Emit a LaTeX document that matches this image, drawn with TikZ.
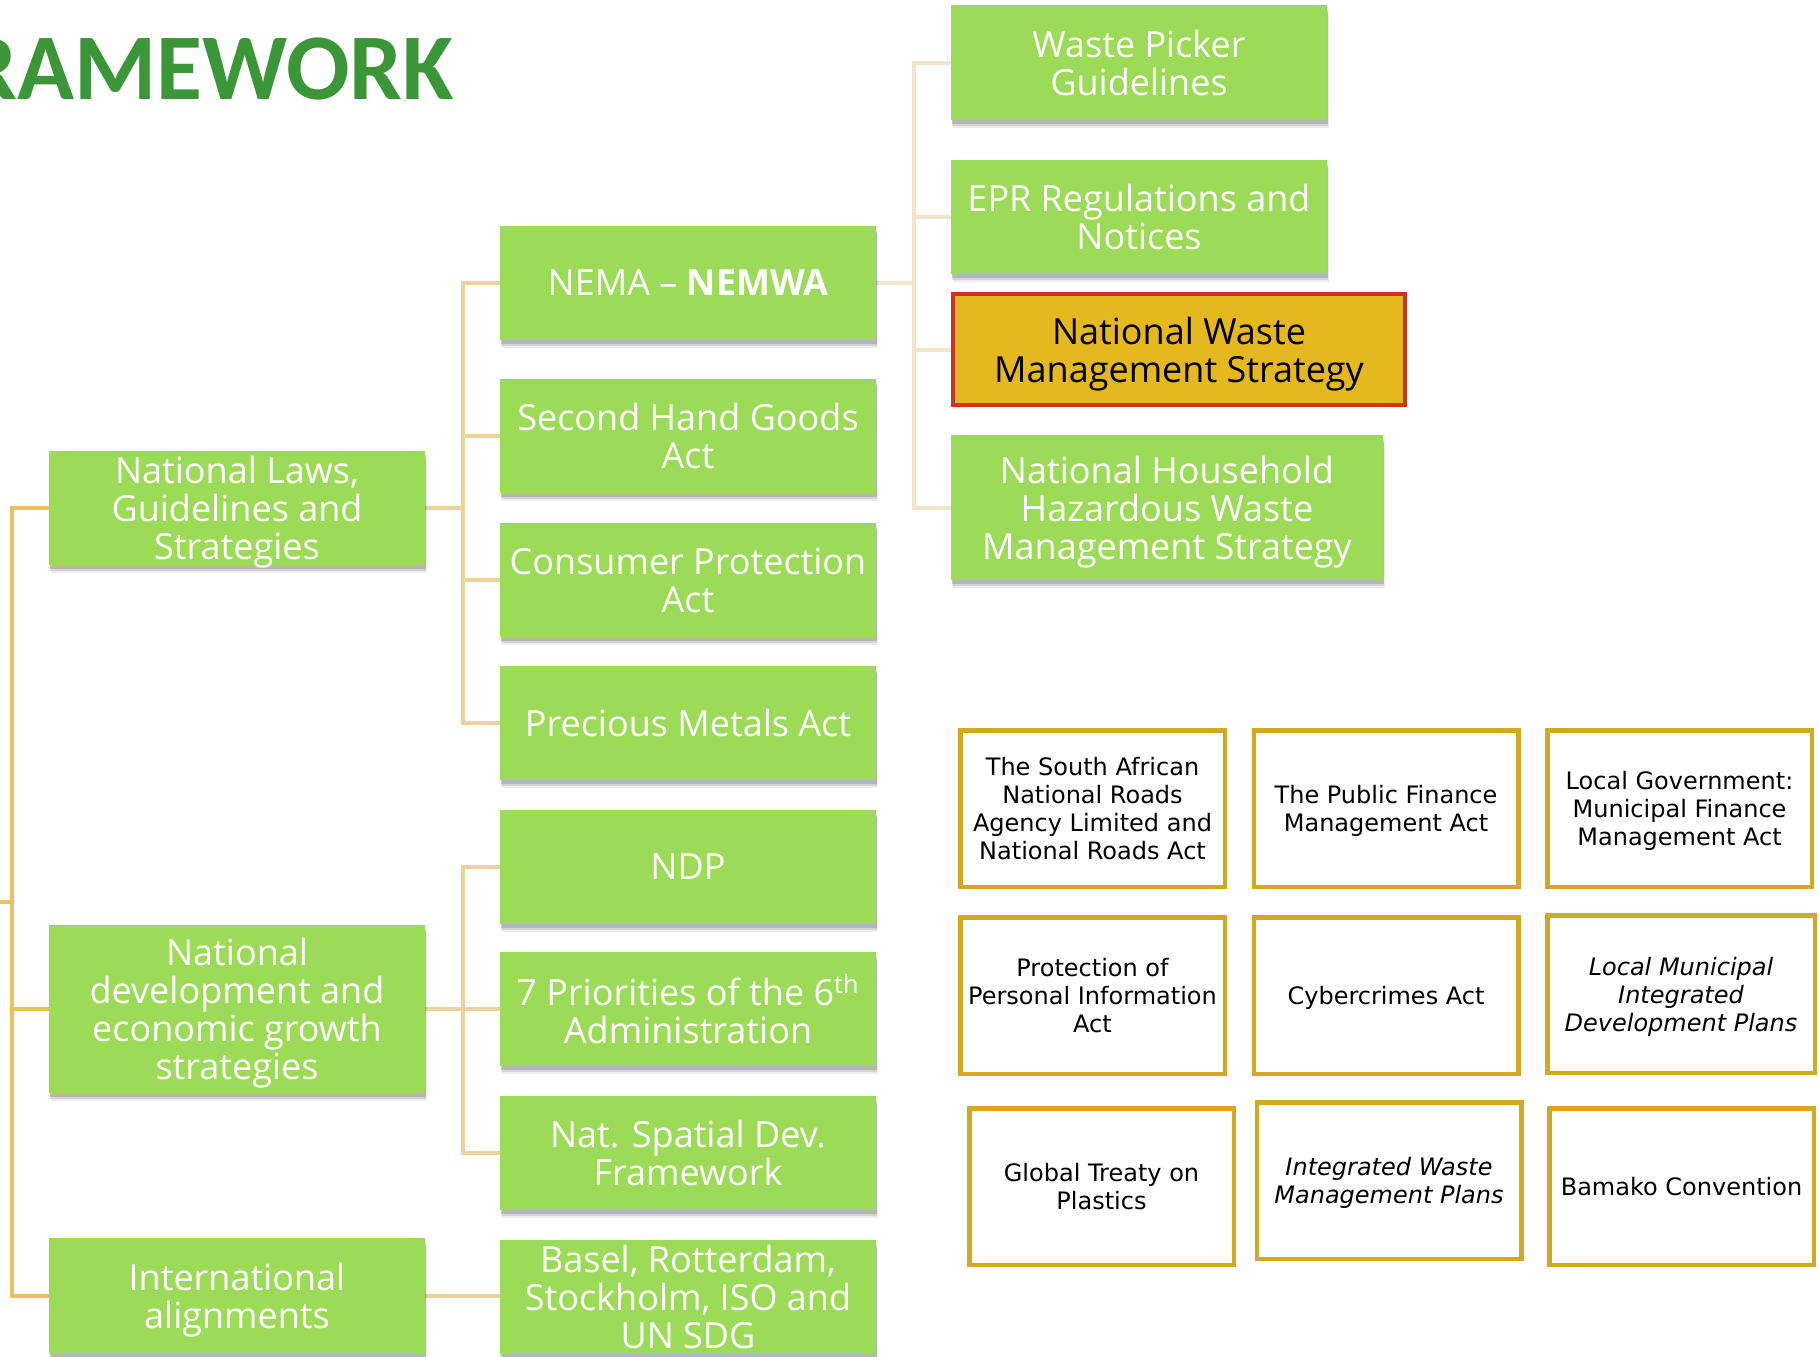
\documentclass[tikz,border=0pt]{standalone}
\usepackage{fontspec}
\setmainfont{Open Sans}
\newfontfamily\gridfont{DejaVu Sans}
\newfontfamily\titlefont{Carlito}
\usetikzlibrary{shadows}
\definecolor{lgreen}{RGB}{156,219,88}
\definecolor{titlegreen}{RGB}{58,150,55}
\definecolor{goldfill}{RGB}{229,184,32}
\definecolor{redline}{RGB}{204,51,34}
\definecolor{gridgold}{RGB}{212,168,32}
\definecolor{trunkc}{RGB}{233,193,94}
\definecolor{midc}{RGB}{237,211,153}
\definecolor{lightc}{RGB}{244,228,201}
\pgfdeclarelayer{back}\pgfdeclarelayer{bg}\pgfsetlayers{back,bg,main}
\begin{document}
\begin{tikzpicture}[x=0.5pt,y=-0.5pt,
  softshadow/.style={
    general shadow={shadow xshift=0.9pt,shadow yshift=-4pt,fill=black,opacity=0.07},
    general shadow={shadow xshift=0.6pt,shadow yshift=-3pt,fill=black,opacity=0.10},
    general shadow={shadow xshift=0.3pt,shadow yshift=-2pt,fill=black,opacity=0.14}},
  gbox/.style={fill=lgreen, text=white, align=center, inner xsep=1pt, inner ysep=0pt,
    text depth=0pt,
    font=\fontsize{18}{19}\selectfont, minimum width=188pt, minimum height=57pt, softshadow},
  gridbox/.style={draw=gridgold, line width=2.25pt, fill=white, text=black, align=center,
    inner sep=1pt, text depth=0pt, font=\gridfont\fontsize{12}{14}\selectfont,
    minimum width=132.25pt, minimum height=78.25pt},
  contrunk/.style={draw=trunkc, line width=2pt},
  conmid/.style={draw=midc, line width=2pt},
  conlight/.style={draw=lightc, line width=2pt}]

\begin{pgfonlayer}{back}
  \fill[white] (0,0) rectangle (1819,1356);
\end{pgfonlayer}
\useasboundingbox (0,0) rectangle (1819,1356);

% title
\node[anchor=base west, inner sep=0pt, text=titlegreen,
  font=\titlefont\bfseries\fontsize{47}{50}\selectfont] (title) at (-36,99) {RAMEWORK};

% left column
\node[gbox] (natlaws) at (237,508) {National Laws,\\Guidelines and\\Strategies};
\node[gbox, minimum height=84pt] (natdev) at (237,1009) {National\\development and\\economic growth\\strategies};
\node[gbox, minimum height=58pt] (intl) at (237,1296) {International\\alignments};

% middle column
\node[gbox] (nema) at (688,283) {NEMA -- \textbf{NEMWA}};
\node[gbox] (sh) at (688,436) {Second Hand Goods\\Act};
\node[gbox] (cp) at (688,580) {Consumer Protection\\Act};
\node[gbox] (pm) at (688,723) {Precious Metals Act};
\node[gbox] (ndp) at (688,866.5) {NDP};
\node[gbox] (pri) at (688,1009) {7 Priorities of the 6\textsuperscript{th}\\Administration};
\node[gbox] (nsdf) at (688,1153) {Nat. Spatial Dev.\\Framework};
\node[gbox] (basel) at (688,1297) {Basel, Rotterdam,\\Stockholm, ISO and\\UN SDG};

% right column
\node[gbox, minimum height=57.5pt] (wp) at (1139,62.5) {Waste Picker\\Guidelines};
\node[gbox] (epr) at (1139,216.5) {EPR Regulations and\\Notices};
\node[fill=goldfill, draw=redline, line width=2pt, text=black, align=center, inner sep=1pt,
  text depth=0pt, font=\fontsize{18}{19}\selectfont, minimum width=226pt, minimum height=55.5pt]
  (nwms) at (1179,349.5) {National Waste\\Management Strategy};
\node[gbox, minimum width=216pt, minimum height=72.5pt] (nhh) at (1167,507.5)
  {National Household\\Hazardous Waste\\Management Strategy};

% grid of acts
\node[gridbox] (g1) at (1092.5,808.5) {The South African\\National Roads\\Agency Limited and\\National Roads Act};
\node[gridbox] (g2) at (1386,808.5) {The Public Finance\\Management Act};
\node[gridbox] (g3) at (1679.5,808.5) {Local Government:\\Municipal Finance\\Management Act};
\node[gridbox] (g4) at (1092.5,995.5) {Protection of\\Personal Information\\Act};
\node[gridbox] (g5) at (1386,995.5) {Cybercrimes Act};
\node[gridbox, minimum width=133.75pt, minimum height=78.75pt, font=\gridfont\itshape\fontsize{12}{14}\selectfont]
  (g6) at (1681,994) {Local Municipal\\Integrated\\Development Plans};
\node[gridbox] (g7) at (1101.5,1186.5) {Global Treaty on\\Plastics};
\node[gridbox, font=\gridfont\itshape\fontsize{12}{14}\selectfont]
  (g8) at (1389,1180.5) {Integrated Waste\\Management Plans};
\node[gridbox] (g9) at (1681.5,1186.5) {Bamako Convention};

% connectors
\coordinate (root) at (0,902);
\coordinate (tk) at (12,902);
\coordinate (b1) at (463,508);
\coordinate (b2) at (463,1009);
\coordinate (b3) at (914,283);
\begin{pgfonlayer}{bg}
  \draw[contrunk] (natlaws.west) -| (tk) |- (intl.west);
  \draw[contrunk] (natdev.west) -- (natdev.west -| tk);
  \draw[contrunk] (root) -- (tk);

  \draw[conmid] (natlaws.east) -- (b1);
  \draw[conmid] (nema.west) -- (nema.west -| b1) -- (pm.west -| b1) -- (pm.west);
  \draw[conmid] (sh.west) -- (sh.west -| b1);
  \draw[conmid] (cp.west) -- (cp.west -| b1);

  \draw[conmid] (natdev.east) -- (b2);
  \draw[conmid] (ndp.west) -- (ndp.west -| b2) -- (nsdf.west -| b2) -- (nsdf.west);
  \draw[conmid] (pri.west) -- (pri.west -| b2);

  \draw[conmid] (intl.east) -- (intl.east -| basel.west);

  \draw[conlight] (nema.east) -- (b3);
  \draw[conlight] (wp.west) -- (wp.west -| b3) -- (nhh.west -| b3) -- (nhh.west);
  \draw[conlight] (epr.west) -- (epr.west -| b3);
  \draw[conlight] (nwms.west) -- (nwms.west -| b3);
\end{pgfonlayer}
\end{tikzpicture}
\end{document}
